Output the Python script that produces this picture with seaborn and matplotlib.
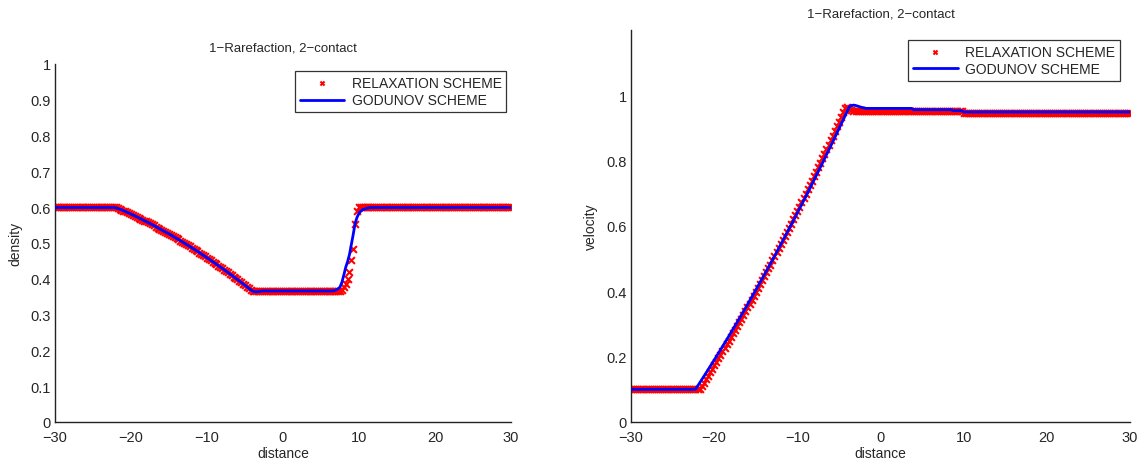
import numpy as np
import pandas as pd
import matplotlib
matplotlib.use("Agg")
import matplotlib.pyplot as plt
from matplotlib.ticker import FormatStrFormatter
import seaborn as sns

# ---------------- data ----------------
distance = np.linspace(-30, 30, 241)

density_relaxation = (
    [0.6] * 32
    + [0.600, 0.5977, 0.5954, 0.5930, 0.5906, 0.5882, 0.5858, 0.5833, 0.5809, 0.5783,
       0.5758, 0.5732, 0.5706, 0.5680, 0.5653, 0.5627, 0.5600, 0.5572, 0.5545, 0.5517,
       0.5489, 0.5460, 0.5432, 0.5403, 0.5373, 0.5344, 0.5314, 0.5284, 0.5254, 0.5223,
       0.5192, 0.5161, 0.5130, 0.5098, 0.5066, 0.5034, 0.5001, 0.4968, 0.4935, 0.4902,
       0.4869, 0.4835, 0.4801, 0.4766, 0.4731, 0.4696, 0.4661, 0.4626, 0.4590, 0.4554,
       0.4518, 0.4481, 0.4444, 0.4407, 0.4370, 0.4332, 0.4294, 0.4256, 0.4217, 0.4179,
       0.4140, 0.4100, 0.4061, 0.4021, 0.3981, 0.3940, 0.3900, 0.3859, 0.3818, 0.3776,
       0.3734, 0.3692, 0.3650]
    + [0.366] * 45
    + [0.367, 0.370, 0.376, 0.386, 0.399, 0.418, 0.452, 0.482, 0.553, 0.588]
    + [0.6] * 81
)

density_godunov = (
    [0.599] * 32
    + [0.598, 0.5965, 0.5948, 0.5928, 0.5906, 0.5882, 0.5858, 0.5833, 0.5809, 0.5783,
       0.5758, 0.5732, 0.5706, 0.5680, 0.5653, 0.5627, 0.5600, 0.5572, 0.5545, 0.5517,
       0.5489, 0.5460, 0.5432, 0.5403, 0.5373, 0.5344, 0.5314, 0.5284, 0.5254, 0.5223,
       0.5192, 0.5161, 0.5130, 0.5098, 0.5066, 0.5034, 0.5001, 0.4968, 0.4935, 0.4902,
       0.4869, 0.4835, 0.4801, 0.4766, 0.4731, 0.4696, 0.4661, 0.4626, 0.4590, 0.4554,
       0.4518, 0.4481, 0.4444, 0.4407, 0.4370, 0.4332, 0.4294, 0.4256, 0.4217, 0.4179,
       0.4140, 0.4100, 0.4061, 0.4021, 0.3981, 0.3940, 0.3900, 0.3859, 0.3818, 0.3776,
       0.3736, 0.3697, 0.3660]
    + [0.3640, 0.3635, 0.3640, 0.3648]
    + [0.366] * 37
    + [0.366, 0.367, 0.369, 0.372, 0.377, 0.390, 0.410, 0.432, 0.448, 0.468,
       0.496, 0.525, 0.556, 0.572, 0.583, 0.589, 0.593, 0.595, 0.597, 0.598]
    + [0.599] * 75
)

velocity_relaxation = (
    [0.1] * 33
    + [0.1000, 0.1103, 0.1206, 0.1309, 0.1414, 0.1519, 0.1624, 0.1730, 0.1837, 0.1944,
       0.2052, 0.2161, 0.2270, 0.2379, 0.2490, 0.2600, 0.2712, 0.2824, 0.2937, 0.3050,
       0.3164, 0.3278, 0.3393, 0.3509, 0.3625, 0.3742, 0.3860, 0.3978, 0.4096, 0.4216,
       0.4335, 0.4456, 0.4577, 0.4699, 0.4821, 0.4944, 0.5067, 0.5191, 0.5316, 0.5441,
       0.5567, 0.5693, 0.5820, 0.5948, 0.6076, 0.6205, 0.6335, 0.6464, 0.6595, 0.6726,
       0.6858, 0.6991, 0.7124, 0.7257, 0.7391, 0.7526, 0.7662, 0.7798, 0.7934, 0.8071,
       0.8209, 0.8348, 0.8487, 0.8626, 0.8766, 0.8907, 0.9049, 0.9191, 0.9333, 0.9476,
       0.9620]
    + [0.963, 0.959, 0.955, 0.953]
    + [0.952] * 52
    + [0.947] * 81
)

velocity_godunov = (
    [0.1] * 31
    + [0.1000, 0.1097, 0.1195, 0.1293, 0.1392, 0.1492, 0.1592, 0.1692, 0.1793, 0.1895,
       0.1997, 0.2100, 0.2203, 0.2307, 0.2411, 0.2516, 0.2621, 0.2727, 0.2833, 0.2940,
       0.3048, 0.3156, 0.3264, 0.3374, 0.3483, 0.3593, 0.3704, 0.3815, 0.3927, 0.4039,
       0.4152, 0.4266, 0.4380, 0.4494, 0.4609, 0.4725, 0.4841, 0.4957, 0.5075, 0.5192,
       0.5310, 0.5429, 0.5549, 0.5668, 0.5789, 0.5910, 0.6031, 0.6153, 0.6276, 0.6399,
       0.6522, 0.6647, 0.6771, 0.6896, 0.7022, 0.7148, 0.7275, 0.7403, 0.7531, 0.7659,
       0.7788, 0.7917, 0.8047, 0.8178, 0.8309, 0.8441, 0.8573, 0.8706, 0.8839, 0.8973,
       0.9107, 0.9242, 0.9377, 0.9513, 0.9650]
    + [0.969, 0.970, 0.969, 0.967, 0.965, 0.963, 0.962]
    + [0.960] * 23
    + [0.956] * 19
    + [0.953] * 5
    + [0.949] * 81
)

title_text = "1\u2212Rarefaction, 2\u2212contact"
label_relax = "RELAXATION SCHEME"
label_godunov = "GODUNOV SCHEME"
left_yticks = [0, 0.1, 0.2, 0.3, 0.4, 0.5, 0.6, 0.7, 0.8, 0.9, 1]
right_yticks = [0, 0.2, 0.4, 0.6, 0.8, 1]
xticks = [-30, -20, -10, 0, 10, 20, 30]

df = pd.DataFrame({
    "distance": distance,
    "density_relax": density_relaxation,
    "density_godunov": density_godunov,
    "velocity_relax": velocity_relaxation,
    "velocity_godunov": velocity_godunov,
})

# ---------------- style ----------------
sns.set_style("white")
plt.rcParams["font.family"] = ["Liberation Sans", "DejaVu Sans"]
text_color = "#262626"

fig = plt.figure(figsize=(11.45, 4.64), dpi=100)
axL = fig.add_axes([0.048, 0.0884, 0.3983, 0.7716])
axR = fig.add_axes([0.5511, 0.0884, 0.4358, 0.8448])


def draw(ax, ycol_r, ycol_g, ylabel, ylim, yticks, anchor):
    sns.scatterplot(data=df, x="distance", y=ycol_r, marker="x", color="red",
                    s=24, linewidth=1.5, ax=ax, label=label_relax, zorder=2)
    sns.lineplot(data=df, x="distance", y=ycol_g, color="blue", lw=2.0,
                 ax=ax, label=label_godunov, zorder=3)
    ax.set_xlim(-30, 30)
    ax.set_ylim(*ylim)
    ax.set_xticks(xticks)
    ax.set_yticks(yticks)
    ax.yaxis.set_major_formatter(FormatStrFormatter("%g"))
    for side in ("top", "right"):
        ax.spines[side].set_visible(False)
    for side in ("left", "bottom"):
        ax.spines[side].set_color("#222222")
        ax.spines[side].set_linewidth(1.0)
    ax.tick_params(direction="in", length=4, width=0.9, labelsize=10.5,
                   colors="#222222", labelcolor=text_color, pad=3)
    ax.tick_params(axis="x", pad=6)
    ax.set_xlabel("distance", fontsize=10, color=text_color, labelpad=1)
    ax.set_ylabel(ylabel, fontsize=10, color=text_color, labelpad=6)
    ax.set_title(title_text, fontsize=9.5, color=text_color, pad=10)
    leg = ax.legend(loc="upper right", bbox_to_anchor=anchor, fontsize=10,
                    frameon=True, fancybox=False, framealpha=1,
                    edgecolor="#333333", handlelength=3.2, borderpad=0.35,
                    labelspacing=0.25, handletextpad=0.55, scatterpoints=1,
                    markerscale=0.6, borderaxespad=0)
    leg.get_frame().set_linewidth(0.9)
    for t in leg.get_texts():
        t.set_color(text_color)


draw(axL, "density_relax", "density_godunov", "density", (0, 1), left_yticks,
     (0.99, 0.98))
draw(axR, "velocity_relax", "velocity_godunov", "velocity", (0, 1.2),
     right_yticks, (0.98, 0.975))

fig.savefig("out.png", dpi=100)
